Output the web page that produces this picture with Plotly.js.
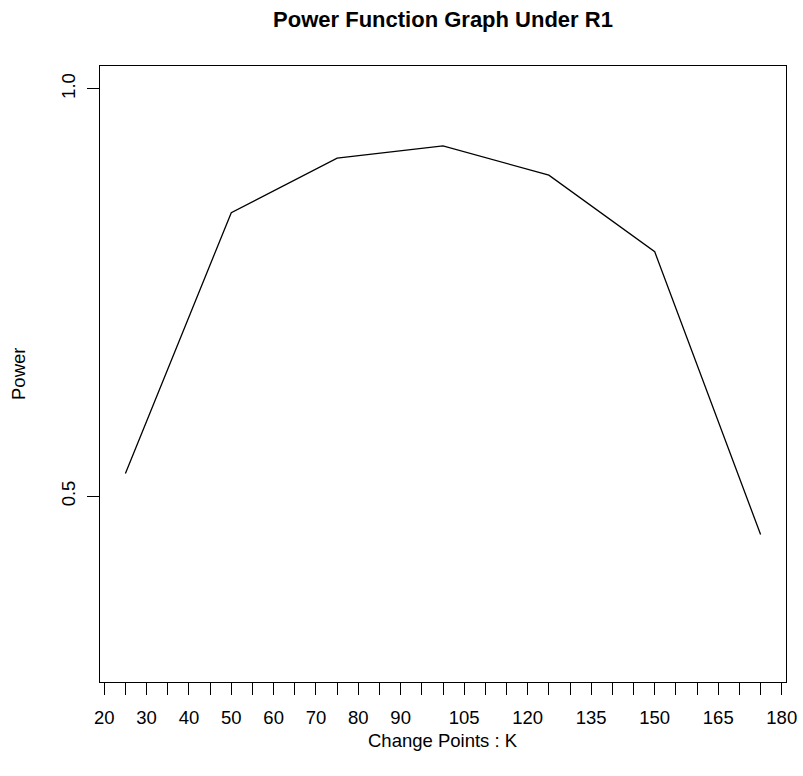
<!DOCTYPE html>
<html>
<head>
<meta charset="utf-8">
<script src="https://cdn.plot.ly/plotly-3.0.1.min.js"></script>
<style>html,body{margin:0;padding:0;background:#fff;}#chart{width:803px;height:776px;}</style>
</head>
<body>
<div id="chart"></div>
<script>
// Data
const changePoints = [25, 50, 75, 100, 125, 150, 175];
const power = [0.528, 0.848, 0.915, 0.930, 0.894, 0.800, 0.453];

// Axis ticks
const xTickVals = [20,25,30,35,40,45,50,55,60,65,70,75,80,85,90,95,100,105,110,115,120,125,130,135,140,145,150,155,160,165,170,175,180];
const xTickText = ["20","","30","","40","","50","","60","","70","","80","","90","","","105","","","120","","","135","","","150","","","165","","","180"];
const yTickVals = [0.5, 1.0];
const yTickText = ["0.5", "1.0"];

const FONT = '"Liberation Sans", Arial, Helvetica, sans-serif';

const trace = {
  x: changePoints,
  y: power,
  type: 'scatter',
  mode: 'lines',
  line: {color: '#000000', width: 1.3},
  hoverinfo: 'skip'
};

const layout = {
  width: 803,
  height: 776,
  margin: {l: 100, r: 17, t: 66, b: 94, pad: 0},
  paper_bgcolor: '#ffffff',
  plot_bgcolor: '#ffffff',
  showlegend: false,
  font: {family: FONT, size: 18.5, color: '#000000'},
  title: {
    text: '<b>Power Function Graph Under R1</b>',
    font: {family: FONT, size: 22, color: '#000000'},
    x: 0.5, xanchor: 'center', xref: 'paper',
    y: 1 - 19 / 776, yanchor: 'middle', yref: 'container'
  },
  xaxis: {
    range: [19, 181],
    tickmode: 'array',
    tickvals: xTickVals,
    ticktext: xTickText,
    ticks: 'outside',
    ticklen: 12,
    tickwidth: 1,
    tickcolor: '#000000',
    ticklabelstandoff: 7,
    showgrid: false,
    zeroline: false,
    showline: true,
    mirror: true,
    linecolor: '#000000',
    linewidth: 1,
    tickfont: {family: FONT, size: 18.5, color: '#000000'}
  },
  yaxis: {
    range: [0.272, 1.028],
    tickmode: 'array',
    tickvals: yTickVals,
    ticktext: yTickText,
    ticks: 'outside',
    ticklen: 12,
    tickwidth: 1,
    tickcolor: '#000000',
    tickangle: -90,
    ticklabelstandoff: 5,
    showgrid: false,
    zeroline: false,
    showline: true,
    mirror: true,
    linecolor: '#000000',
    linewidth: 1,
    tickfont: {family: FONT, size: 18.5, color: '#000000'}
  },
  annotations: [
    {
      text: 'Change Points : K',
      xref: 'paper', yref: 'paper',
      x: 0.5, y: -(740 - 682) / 616,
      xanchor: 'center', yanchor: 'middle',
      showarrow: false,
      font: {family: FONT, size: 18.5, color: '#000000'}
    },
    {
      text: 'Power',
      xref: 'paper', yref: 'paper',
      x: (18 - 100) / 686, y: 0.5,
      xanchor: 'center', yanchor: 'middle',
      textangle: -90,
      showarrow: false,
      font: {family: FONT, size: 18.5, color: '#000000'}
    }
  ]
};

Plotly.newPlot('chart', [trace], layout, {staticPlot: true, displayModeBar: false});
</script>
</body>
</html>
